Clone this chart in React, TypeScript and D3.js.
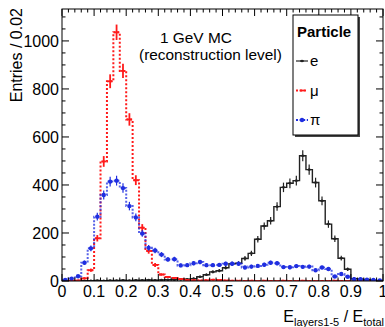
import React from 'react';
import * as d3 from 'd3';

// bin contents, 50 bins of width 0.02 over [0, 1]
const electron = [
  0, 1, 0, 1, 1, 2, 1, 2, 2, 3, 2, 3, 3, 4, 3, 4, 5, 5, 6, 7,
  10, 18, 26, 38, 43, 55, 72, 74, 94, 115, 174, 229, 251, 310, 390, 407, 418, 522, 464, 410,
  334, 237, 176, 95, 49, 10, 8, 5, 2, 1,
];
const muon = [
  0, 1, 2, 11, 45, 178, 498, 832, 1036, 875, 673, 420, 222, 125, 67, 27, 17, 13, 8, 4,
  3, 2, 3, 5, 4, 2, 1, 1, 0, 1, 0, 1, 0, 0, 1, 0, 0, 1, 0, 0,
  0, 0, 1, 0, 0, 0, 0, 0, 0, 0,
];
const pion = [
  4, 10, 20, 76, 136, 268, 358, 414, 418, 387, 312, 265, 198, 138, 127, 110, 90, 91, 65, 66,
  74, 79, 66, 66, 67, 72, 72, 72, 56, 60, 63, 68, 76, 74, 58, 57, 62, 59, 60, 45,
  56, 50, 19, 29, 18, 7, 7, 5, 4, 2,
];
const binWidth = 0.02;
const xTicks = [0, 0.1, 0.2, 0.3, 0.4, 0.5, 0.6, 0.7, 0.8, 0.9, 1];
const xTickLabels = ['0', '0.1', '0.2', '0.3', '0.4', '0.5', '0.6', '0.7', '0.8', '0.9', '1'];
const yTicks = [0, 200, 400, 600, 800, 1000];
const legendLabels = ['e', 'μ', 'π'];

const W = 385;
const H = 327;
const FONT = '"Liberation Sans", Arial, Helvetica, sans-serif';

const x = d3.scaleLinear().domain([0, 1]).range([62, 383]);
const y = d3.scaleLinear().domain([0, 1133]).range([281, 9]);

const series = [
  { name: legendLabels[0], values: electron, color: '#222', width: 1.4, dash: null, marker: 'dot' },
  { name: legendLabels[1], values: muon, color: '#ff1a1a', width: 2, dash: '2,2', marker: 'cross' },
  { name: legendLabels[2], values: pion, color: '#1f2ee0', width: 2, dash: '2,1.6', marker: 'circle' },
];

const stepLine = d3
  .line<[number, number]>()
  .x((d) => x(d[0]))
  .y((d) => y(d[1]))
  .curve(d3.curveStepAfter);

function stepPoints(values: number[]): [number, number][] {
  const pts: [number, number][] = values.map((v, i) => [i * binWidth, v]);
  pts.push([values.length * binWidth, values[values.length - 1]]);
  return pts;
}

const minorX = d3.range(0, 51).map((i) => i * binWidth);
const minorY = d3.range(0, 1101, 50);

const Marker = ({ cx, cy, kind, color }: any) => {
  if (kind === 'cross')
    return (
      <g stroke={color} strokeWidth={1.8}>
        <line x1={cx - 2.5} x2={cx + 2.5} y1={cy} y2={cy} />
      </g>
    );
  if (kind === 'circle') return <circle cx={cx} cy={cy} r={2.2} fill={color} />;
  return (
    <g>
      <line x1={cx - 2} x2={cx + 2} y1={cy} y2={cy} stroke={color} strokeWidth={1.2} />
      <circle cx={cx} cy={cy} r={1.3} fill={color} />
    </g>
  );
};

export default function App() {
  return (
    <svg
      width={W}
      height={H}
      style={{ position: 'absolute', left: 0, top: 0, background: '#fff' }}
      fontFamily={FONT}
    >
      <defs>
        <clipPath id="plot">
          <rect x={62} y={9} width={321} height={272} />
        </clipPath>
      </defs>

      <g clipPath="url(#plot)">
        {series.map((s) => (
          <g key={s.name}>
            <path
              d={stepLine(stepPoints(s.values)) || ''}
              fill="none"
              stroke={s.color}
              strokeWidth={s.width}
              strokeDasharray={s.dash || undefined}
              opacity={s.marker === 'circle' ? 0.75 : 1}
            />
            {s.values.map((v, i) => {
              const cx = x((i + 0.5) * binWidth);
              const err = Math.sqrt(v);
              return (
                <g key={i}>
                  <line
                    x1={cx}
                    x2={cx}
                    y1={y(v - err)}
                    y2={y(v + err)}
                    stroke={s.color}
                    strokeWidth={s.marker === 'cross' ? 1.8 : 1.2}
                  />
                  <Marker cx={cx} cy={y(v)} kind={s.marker} color={s.color} />
                </g>
              );
            })}
          </g>
        ))}
      </g>

      {/* frame and ticks */}
      <rect x={62} y={9} width={321} height={272} fill="none" stroke="#000" strokeWidth={1} />
      <g stroke="#000" strokeWidth={1}>
        {minorX.map((t, i) => {
          const major = i % 5 === 0;
          const len = major ? 7 : 3.5;
          const px = x(t);
          return (
            <g key={'x' + i}>
              <line x1={px} x2={px} y1={281} y2={281 - len} />
              <line x1={px} x2={px} y1={9} y2={9 + len} />
            </g>
          );
        })}
        {minorY.map((t, i) => {
          const major = t % 200 === 0;
          const len = major ? 7 : 3.5;
          const py = y(t);
          return (
            <g key={'y' + i}>
              <line x1={62} x2={62 + len} y1={py} y2={py} />
              <line x1={383} x2={383 - len} y1={py} y2={py} />
            </g>
          );
        })}
      </g>

      {/* tick labels */}
      <g fontSize={16} fill="#000">
        {xTicks.map((t, i) => (
          <text key={'xl' + i} x={x(t)} y={297} textAnchor="middle">
            {xTickLabels[i]}
          </text>
        ))}
        {yTicks.map((t) => (
          <text key={'yl' + t} x={59} y={y(t)} dy="0.36em" textAnchor="end">
            {t}
          </text>
        ))}
      </g>

      {/* axis titles */}
      <text
        transform="translate(22,8) rotate(-90)"
        textAnchor="end"
        fontSize={16}
      >
        Entries / 0.02
      </text>
      <text x={384} y={322} textAnchor="end" fontSize={16}>
        E<tspan fontSize={11} dy={4}>layers1-5</tspan>
        <tspan dy={-4}> / E</tspan>
        <tspan fontSize={11} dy={4}>total</tspan>
      </text>

      {/* annotation */}
      <text x={160} y={43} fontSize={15.4}>
        1 GeV MC
      </text>
      <text x={139} y={60} fontSize={15.4}>
        (reconstruction level)
      </text>

      {/* legend */}
      <rect x={295} y={17} width={65} height={120} fill="#444" />
      <rect x={293} y={15} width={65} height={120} fill="#fff" stroke="#000" strokeWidth={1} />
      <text x={297} y={37} fontSize={15} fontWeight="bold">
        Particle
      </text>
      {series.map((s, i) => {
        const ly = 61 + i * 29.5;
        return (
          <g key={'lg' + s.name}>
            <line
              x1={296}
              x2={308}
              y1={ly}
              y2={ly}
              stroke={s.color}
              strokeWidth={s.marker === 'dot' ? 1.2 : 1.8}
              strokeDasharray={s.dash || undefined}
            />
            <Marker cx={302} cy={ly} kind={s.marker} color={s.color} />
            <text x={310} y={ly + 5} fontSize={15}>
              {s.name}
            </text>
          </g>
        );
      })}
    </svg>
  );
}
